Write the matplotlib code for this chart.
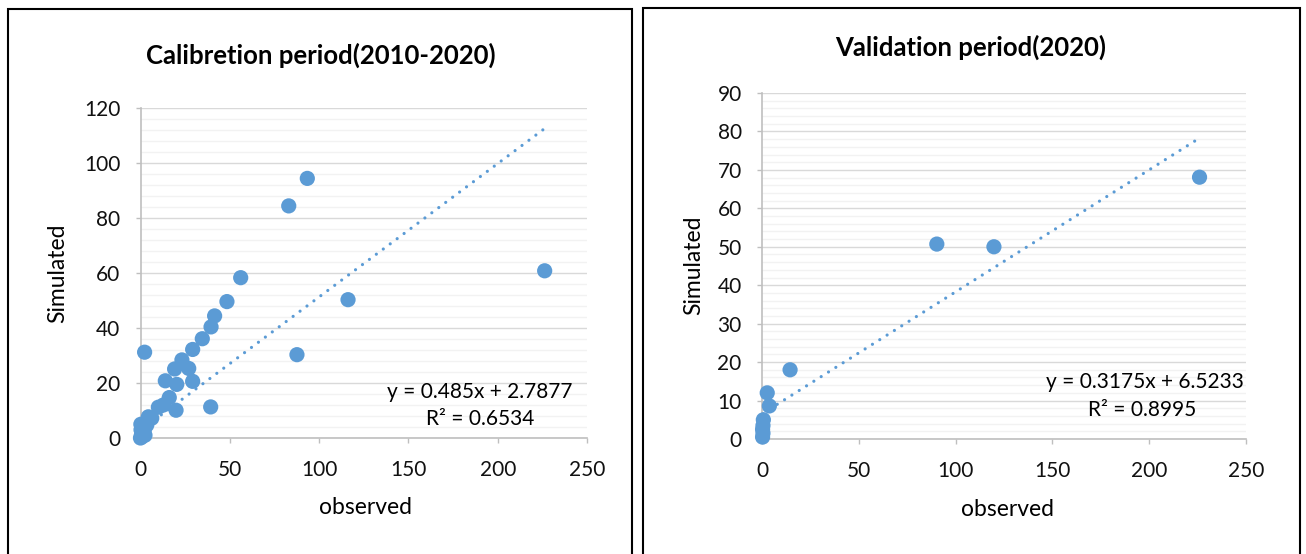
import matplotlib.pyplot as plt
from matplotlib.patches import Rectangle
from matplotlib.ticker import MultipleLocator

plt.rcParams['font.family'] = ['Lato', 'DejaVu Sans']

# calibration period 2010-2020 (observed vs simulated)
cal_obs = [93.4, 83.0, 226.3, 56.1, 48.4, 41.5, 39.5, 34.6, 29.2, 116.2,
           87.6, 2.3, 23.2, 19.1, 27.0, 13.9, 20.3, 29.2, 39.3, 16.1,
           19.9, 10.0, 12.8, 6.3, 3.5, 4.4, 0.0, 0.5, 1.0, 0.3,
           1.5, 2.0, 0.2, 2.5, 0.8, 1.2]
cal_sim = [94.4, 84.4, 60.8, 58.3, 49.6, 44.4, 40.4, 36.1, 32.2, 50.3,
           30.3, 31.2, 28.4, 25.1, 25.3, 20.8, 19.5, 20.6, 11.3, 14.7,
           10.1, 11.2, 12.0, 7.2, 4.7, 7.7, 0.0, 1.0, 2.0, 3.0,
           4.0, 2.5, 5.0, 1.0, 0.4, 1.5]
cal_fit = (0.485, 2.7877)
cal_r2 = 0.6534

# validation period 2020
val_obs = [0.3, 0.5, 0.3, 0.5, 0.7, 3.8, 2.7, 14.5, 90.3, 119.8, 226.0]
val_sim = [0.5, 1.5, 2.5, 3.5, 5.0, 8.6, 12.0, 18.0, 50.7, 50.0, 68.1]
val_fit = (0.3175, 6.5233)
val_r2 = 0.8995

W, H = 1306, 554
BLUE = '#5B9BD5'

fig = plt.figure(figsize=(W / 100, H / 100), dpi=100)


def px_axes(x0, x1, y0, y1):
    return fig.add_axes([x0 / W, 1 - y1 / H, (x1 - x0) / W, (y1 - y0) / H])


def style_axes(ax, ymax, ystep, yminor):
    ax.set_xlim(0, 250)
    ax.set_ylim(0, ymax)
    ax.xaxis.set_major_locator(MultipleLocator(50))
    ax.yaxis.set_major_locator(MultipleLocator(ystep))
    ax.yaxis.set_minor_locator(MultipleLocator(yminor))
    ax.grid(which='minor', axis='y', color='#F2F2F2', lw=1, zorder=0)
    ax.grid(which='major', axis='y', color='#D9D9D9', lw=1, zorder=0)
    ax.set_axisbelow(True)
    for s in ['top', 'right']:
        ax.spines[s].set_visible(False)
    for s in ['left', 'bottom']:
        ax.spines[s].set_color('#BFBFBF')
        ax.spines[s].set_linewidth(1.2)
    ax.tick_params(which='major', direction='out', length=3.6, width=1,
                   color='#BFBFBF', labelsize=15, labelcolor='#111111')
    ax.tick_params(axis='y', which='major', pad=11)
    ax.tick_params(axis='x', which='major', pad=12.5)
    ax.tick_params(which='minor', length=0)


def draw_panel(ax, obs, sim, fit):
    a, b = fit
    xs = [min(obs), max(obs)]
    ax.plot(xs, [a * x + b for x in xs], color=BLUE, lw=2.3,
            linestyle=(0, (0.01, 2.7)), dash_capstyle='round', zorder=2)
    ax.scatter(obs, sim, s=120, color=BLUE, edgecolors='none', zorder=3,
               clip_on=False)


ax1 = px_axes(140.5, 587, 108, 438)
style_axes(ax1, 120, 20, 4)
draw_panel(ax1, cal_obs, cal_sim, cal_fit)

ax2 = px_axes(762, 1246, 93, 439)
style_axes(ax2, 90, 10, 2)
draw_panel(ax2, val_obs, val_sim, val_fit)


def ftext(x, y, s, **kw):
    fig.text(x / W, 1 - y / H, s, ha='center', va='center', **kw)


# titles
ftext(321, 55, 'Calibretion period(2010-2020)', fontsize=18.5, fontweight='bold')
ftext(971, 47, 'Validation period(2020)', fontsize=18.5, fontweight='bold')

# axis labels
ftext(366, 508, 'observed', fontsize=16.5)
ftext(1008, 510, 'observed', fontsize=16.5)
ftext(58, 273, 'Simulated', fontsize=16.5, rotation=90)
ftext(694, 265, 'Simulated', fontsize=16.5, rotation=90)

# trendline equations
ftext(480, 392, f'y = {cal_fit[0]}x + {cal_fit[1]}', fontsize=15)
ftext(480, 419, f'R² = {cal_r2}', fontsize=15)
ftext(1145, 382, f'y = {val_fit[0]}x + {val_fit[1]}', fontsize=15)
ftext(1142, 410, f'R² = {val_r2}', fontsize=15)

# panel borders
fig.add_artist(Rectangle((8 / W, -0.05), (632 - 8) / W, 1 - 9 / H + 0.05,
                         transform=fig.transFigure, fill=False,
                         ec='black', lw=1.5))
fig.add_artist(Rectangle((643 / W, -0.05), (1300 - 643) / W, 1 - 8 / H + 0.05,
                         transform=fig.transFigure, fill=False,
                         ec='black', lw=1.5))

fig.savefig('out.png', dpi=100)
